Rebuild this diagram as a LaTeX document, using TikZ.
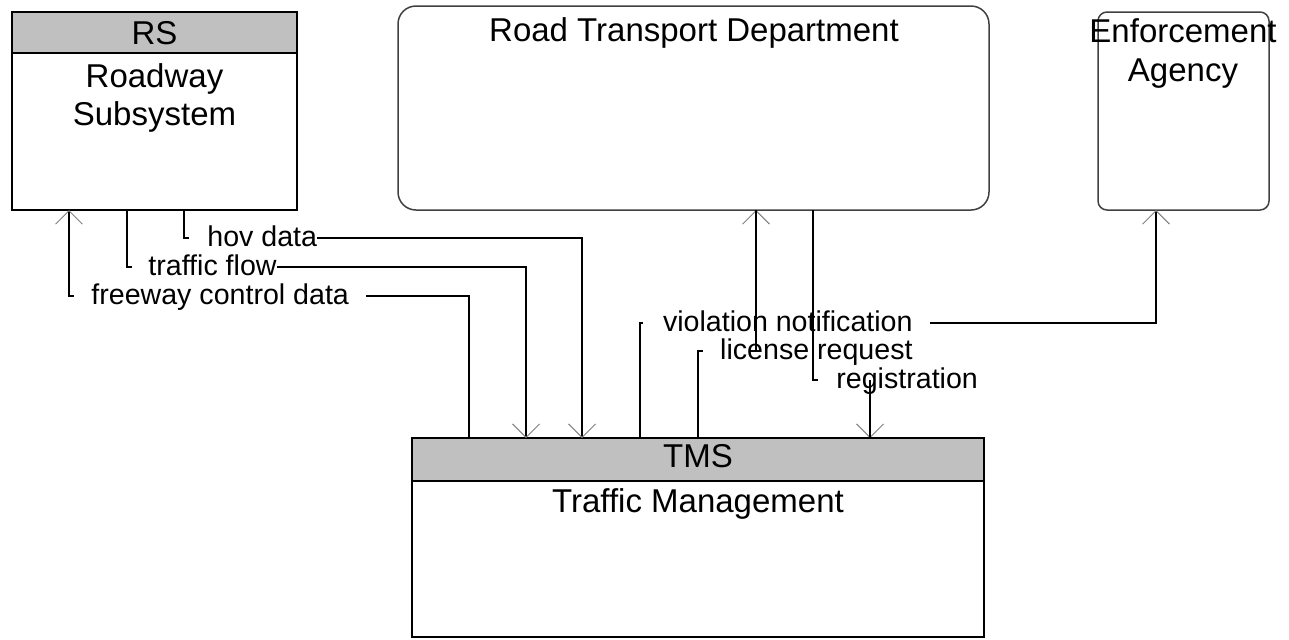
\documentclass[tikz,border=0pt]{standalone}
\usepackage{fontspec}
\setmainfont{Liberation Sans}
\usetikzlibrary{arrows.meta}
\definecolor{hdr}{HTML}{C0C0C0}
\definecolor{rborder}{HTML}{404040}
\newcommand\bigtxt{\fontsize{16.5pt}{19pt}\selectfont}
\newcommand\lbltxt{\fontsize{14.3pt}{16pt}\selectfont}
\begin{document}
\begin{tikzpicture}[x=0.5pt,y=-0.5pt,
  box/.style={draw=black, line width=0.85pt, inner sep=0pt, outer sep=0pt, anchor=north west},
  rbox/.style={draw=rborder, line width=0.75pt, inner sep=0pt, outer sep=0pt, anchor=north west},
  hdrband/.style={draw=black, line width=0.85pt, fill=hdr},
  btxt/.style={anchor=base, inner sep=0pt, font=\bigtxt},
  ltxt/.style={inner xsep=0pt, inner ysep=1pt, fill=white, font=\lbltxt},
  conn/.style={draw=black, line width=1.4pt},
  tip/.style={-{Straight Barb[length=6.75pt, width=13.5pt, line width=0.45pt, color=gray]}},
]
\useasboundingbox (0,0) rectangle (1289,639);

% boxes
\node[box, minimum width=142.5pt, minimum height=99pt] (rs) at (12,12) {};
\draw[hdrband] (rs.north west) rectangle (297,53);
\node[rbox, rounded corners=9pt, minimum width=295.5pt, minimum height=102pt] (rtd) at (398,6) {};
\node[rbox, rounded corners=4.5pt, minimum width=85.5pt, minimum height=99pt] (ea) at (1098,12) {};
\node[box, minimum width=286pt, minimum height=99.5pt] (tms) at (412,438) {};
\draw[hdrband] (tms.north west) rectangle (984,481);

% box texts
\node[btxt] (rsid) at (154.5,44.3) {RS};
\node[btxt] (rsname1) at (154.5,87.3) {Roadway};
\node[btxt] (rsname2) at (154.5,125.7) {Subsystem};
\node[btxt] (rtdname) at (694,41) {Road Transport Department};
\node[btxt] (eaname1) at (1183,42.7) {Enforcement};
\node[btxt] (eaname2) at (1183,81.5) {Agency};
\node[btxt] (tmsid) at (698,467.3) {TMS};
\node[btxt] (tmsname) at (698,512.3) {Traffic Management};

% connector corners
\coordinate (fc1) at (469,296); \coordinate (fc2) at (69,296);
\coordinate (tf1) at (127,267); \coordinate (tf2) at (526,267);
\coordinate (hv1) at (184,238); \coordinate (hv2) at (582,238);
\coordinate (vn1) at (640,323); \coordinate (vn2) at (1156,323);
\coordinate (lr1) at (698,351); \coordinate (lr2) at (756,351);
\coordinate (rg1) at (813,380); \coordinate (rg2) at (870,380);

% connectors
\draw[conn,tip] (tms.north -| fc1) -- (fc1) -- (fc2) -- (rs.south -| fc2);
\draw[conn,tip] (rs.south -| tf1) -- (tf1) -- (tf2) -- (tms.north -| tf2);
\draw[conn,tip] (rs.south -| hv1) -- (hv1) -- (hv2) -- (tms.north -| hv2);
\draw[conn,tip] (tms.north -| vn1) -- (vn1) -- (vn2) -- (ea.south -| vn2);
\draw[conn,tip] (tms.north -| lr1) -- (lr1) -- (lr2) -- (rtd.south -| lr2);
\draw[conn,tip] (rtd.south -| rg1) -- (rg1) -- (rg2) -- (tms.north -| rg2);

% labels (white background hides the horizontal runs)
\node[ltxt, anchor=base west] (hvl) at (189,246) {\hspace*{9pt}hov data};
\node[ltxt, anchor=base west] (tfl) at (132,275) {\hspace*{8pt}traffic flow};
\node[ltxt, anchor=base west] (fcl) at (74,304) {\hspace*{8.5pt}freeway control data\hspace*{8.5pt}};
\node[ltxt, anchor=base east] (vnl) at (930,331) {\hspace*{10pt}violation notification\hspace*{8.5pt}};
\node[ltxt, anchor=base east] (lrl) at (930,359) {\hspace*{8.5pt}license request\hspace*{8.5pt}};
\node[ltxt, anchor=base west] (rgl) at (818,388) {\hspace*{9pt}registration\hspace*{8.5pt}};

% vertical runs that pass over the labels
\draw[conn] (lr2) -- (rtd.south -| lr2);
\draw[conn] (rtd.south -| rg1) -- (rg1);
\draw[conn] (rg2) -- (tms.north -| rg2);
\end{tikzpicture}
\end{document}
